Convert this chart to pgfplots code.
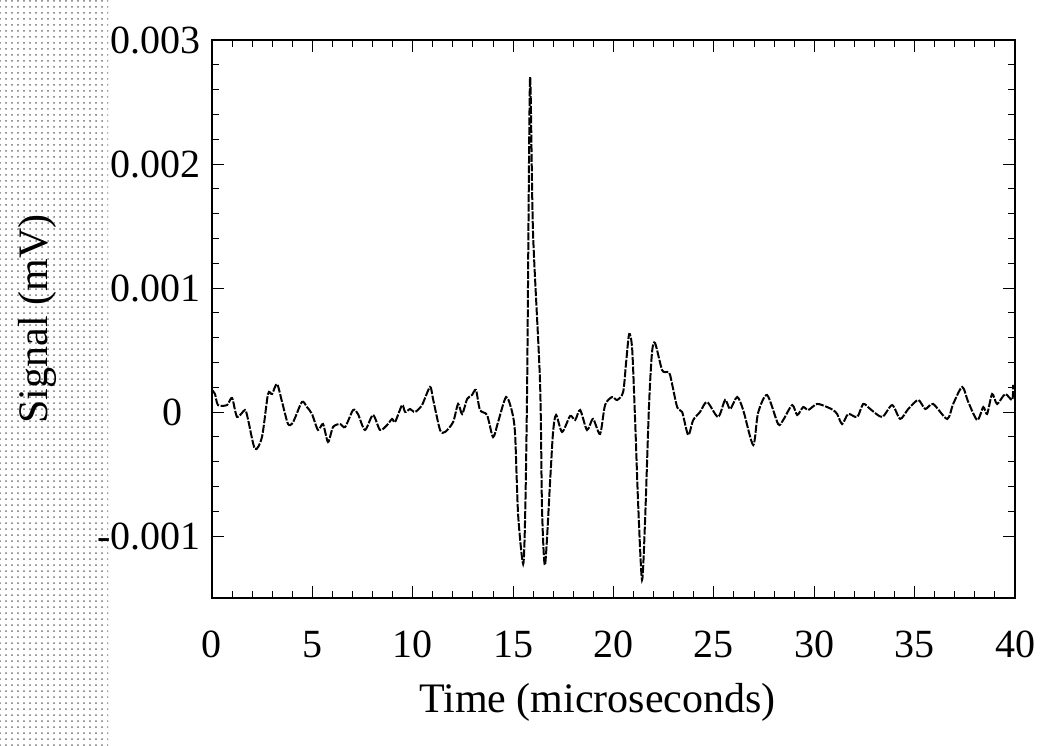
\documentclass[border=0pt]{standalone}
\usepackage{pgfplots}
\pgfplotsset{compat=1.18}
\usepackage{fontspec}
\setmainfont{Liberation Serif}
\usetikzlibrary{patterns}
\begin{document}
\begin{tikzpicture}
\fill[pattern=dots, pattern color=black!55] (-106pt,-73.5pt) rectangle (-52pt,298.5pt);
\begin{axis}[
  name=ax, at={(0,0)}, anchor=south west,
  scale only axis, width=401.5pt, height=279pt,
  xmin=0, xmax=40, ymin=-0.0015, ymax=0.003,
  xtick={0,5,...,40}, xticklabels={0,5,10,15,20,25,30,35,40},
  ytick={-0.001,0,0.001,0.002,0.003},
  yticklabels={-0.001,{0\kern9pt},0.001,0.002,0.003},
  scaled y ticks=false, scaled x ticks=false,
  minor x tick num=4, minor y tick num=4,
  tick align=inside, major tick length=6pt, minor tick length=3.5pt,
  tick style={black, line width=0.5pt},
  axis line style={line width=0.6pt},
  every tick label/.append style={font=\fontsize{20}{24}\selectfont},
  xticklabel style={yshift=-13pt},
  yticklabel style={xshift=-2pt},
  xlabel={Time (microseconds)}, ylabel={Signal (mV)},
  label style={font=\fontsize{21}{25}\selectfont},
  xlabel style={at={(axis description cs:0.48,0)}, yshift=-52pt, anchor=center},
  ylabel style={at={(axis description cs:-0.217,0.5)}, anchor=center},
  clip=true,
]
\addplot[black, line width=1pt, dash pattern=on 4pt off 0.8pt, smooth, tension=0.45] coordinates {
(0.00,0.000177) (0.15,0.000145) (0.30,0.000056) (0.75,0.000056) (1.00,0.000113)
(1.25,-0.000040) (1.64,0.000016) (1.79,-0.000056) (2.14,-0.000298) (2.49,-0.000202)
(2.79,0.000145) (2.99,0.000145) (3.24,0.000226) (3.49,0.000081) (3.79,-0.000097)
(4.04,-0.000081) (4.48,0.000081) (4.73,0.000040) (4.98,-0.000016) (5.28,-0.000145)
(5.53,-0.000097) (5.78,-0.000242) (6.03,-0.000121) (6.38,-0.000097) (6.63,-0.000121)
(7.03,0.000016) (7.27,-0.000016) (7.62,-0.000145) (8.02,-0.000024) (8.37,-0.000145)
(8.72,-0.000105) (8.97,-0.000056) (9.12,-0.000081) (9.47,0.000056) (9.62,0.000000)
(9.87,0.000024) (10.11,0.000000) (10.46,0.000056) (10.86,0.000202) (11.01,0.000105)
(11.36,-0.000145) (11.61,-0.000161) (12.01,-0.000081) (12.26,0.000065) (12.46,-0.000016)
(12.71,0.000105) (12.95,0.000137) (13.15,0.000177) (13.35,0.000016) (13.70,-0.000024)
(14.00,-0.000202) (14.25,-0.000081) (14.65,0.000121) (14.95,0.000000) (15.10,-0.000185)
(15.25,-0.000831) (15.50,-0.001226) (15.60,-0.000831) (15.70,0.000242) (15.84,0.002686)
(15.99,0.001452) (16.34,0.000242) (16.44,-0.000782) (16.59,-0.001234) (16.84,-0.000565)
(16.99,-0.000161) (17.14,-0.000024) (17.44,-0.000161) (17.84,-0.000032) (18.09,-0.000065)
(18.34,0.000016) (18.68,-0.000145) (18.98,-0.000056) (19.33,-0.000177) (19.58,0.000056)
(19.93,0.000121) (20.18,0.000097) (20.48,0.000161) (20.63,0.000403) (20.78,0.000629)
(20.93,0.000508) (21.08,-0.000081) (21.23,-0.000750) (21.42,-0.001355) (21.57,-0.000887)
(21.77,0.000056) (21.92,0.000484) (22.07,0.000556) (22.42,0.000339) (22.67,0.000323)
(22.82,0.000298) (23.17,0.000040) (23.42,0.000000) (23.72,-0.000185) (23.97,-0.000065)
(24.31,0.000000) (24.66,0.000081) (25.21,-0.000040) (25.56,0.000097) (25.81,0.000024)
(26.16,0.000121) (26.46,0.000016) (26.96,-0.000266) (27.20,-0.000008) (27.65,0.000137)
(28.20,-0.000097) (28.45,-0.000065) (28.90,0.000056) (29.15,-0.000024) (29.45,0.000040)
(29.70,0.000016) (30.14,0.000065) (30.64,0.000040) (30.94,0.000016) (31.14,-0.000016)
(31.39,-0.000097) (31.69,-0.000016) (32.14,-0.000040) (32.44,0.000065) (32.79,0.000024)
(33.38,-0.000040) (33.88,0.000056) (34.28,-0.000056) (34.68,0.000024) (35.18,0.000097)
(35.53,0.000024) (35.92,0.000065) (36.62,-0.000056) (36.92,0.000065) (37.37,0.000202)
(37.67,0.000081) (38.12,-0.000065) (38.42,0.000040) (38.61,-0.000016) (38.86,0.000145)
(39.11,0.000065) (39.51,0.000145) (39.86,0.000097) (39.91,0.000218)
};
\end{axis}
\path ([shift={(-106pt,-73.5pt)}]ax.south west) rectangle ([shift={(17.5pt,20pt)}]ax.north east);
\end{tikzpicture}
\end{document}
